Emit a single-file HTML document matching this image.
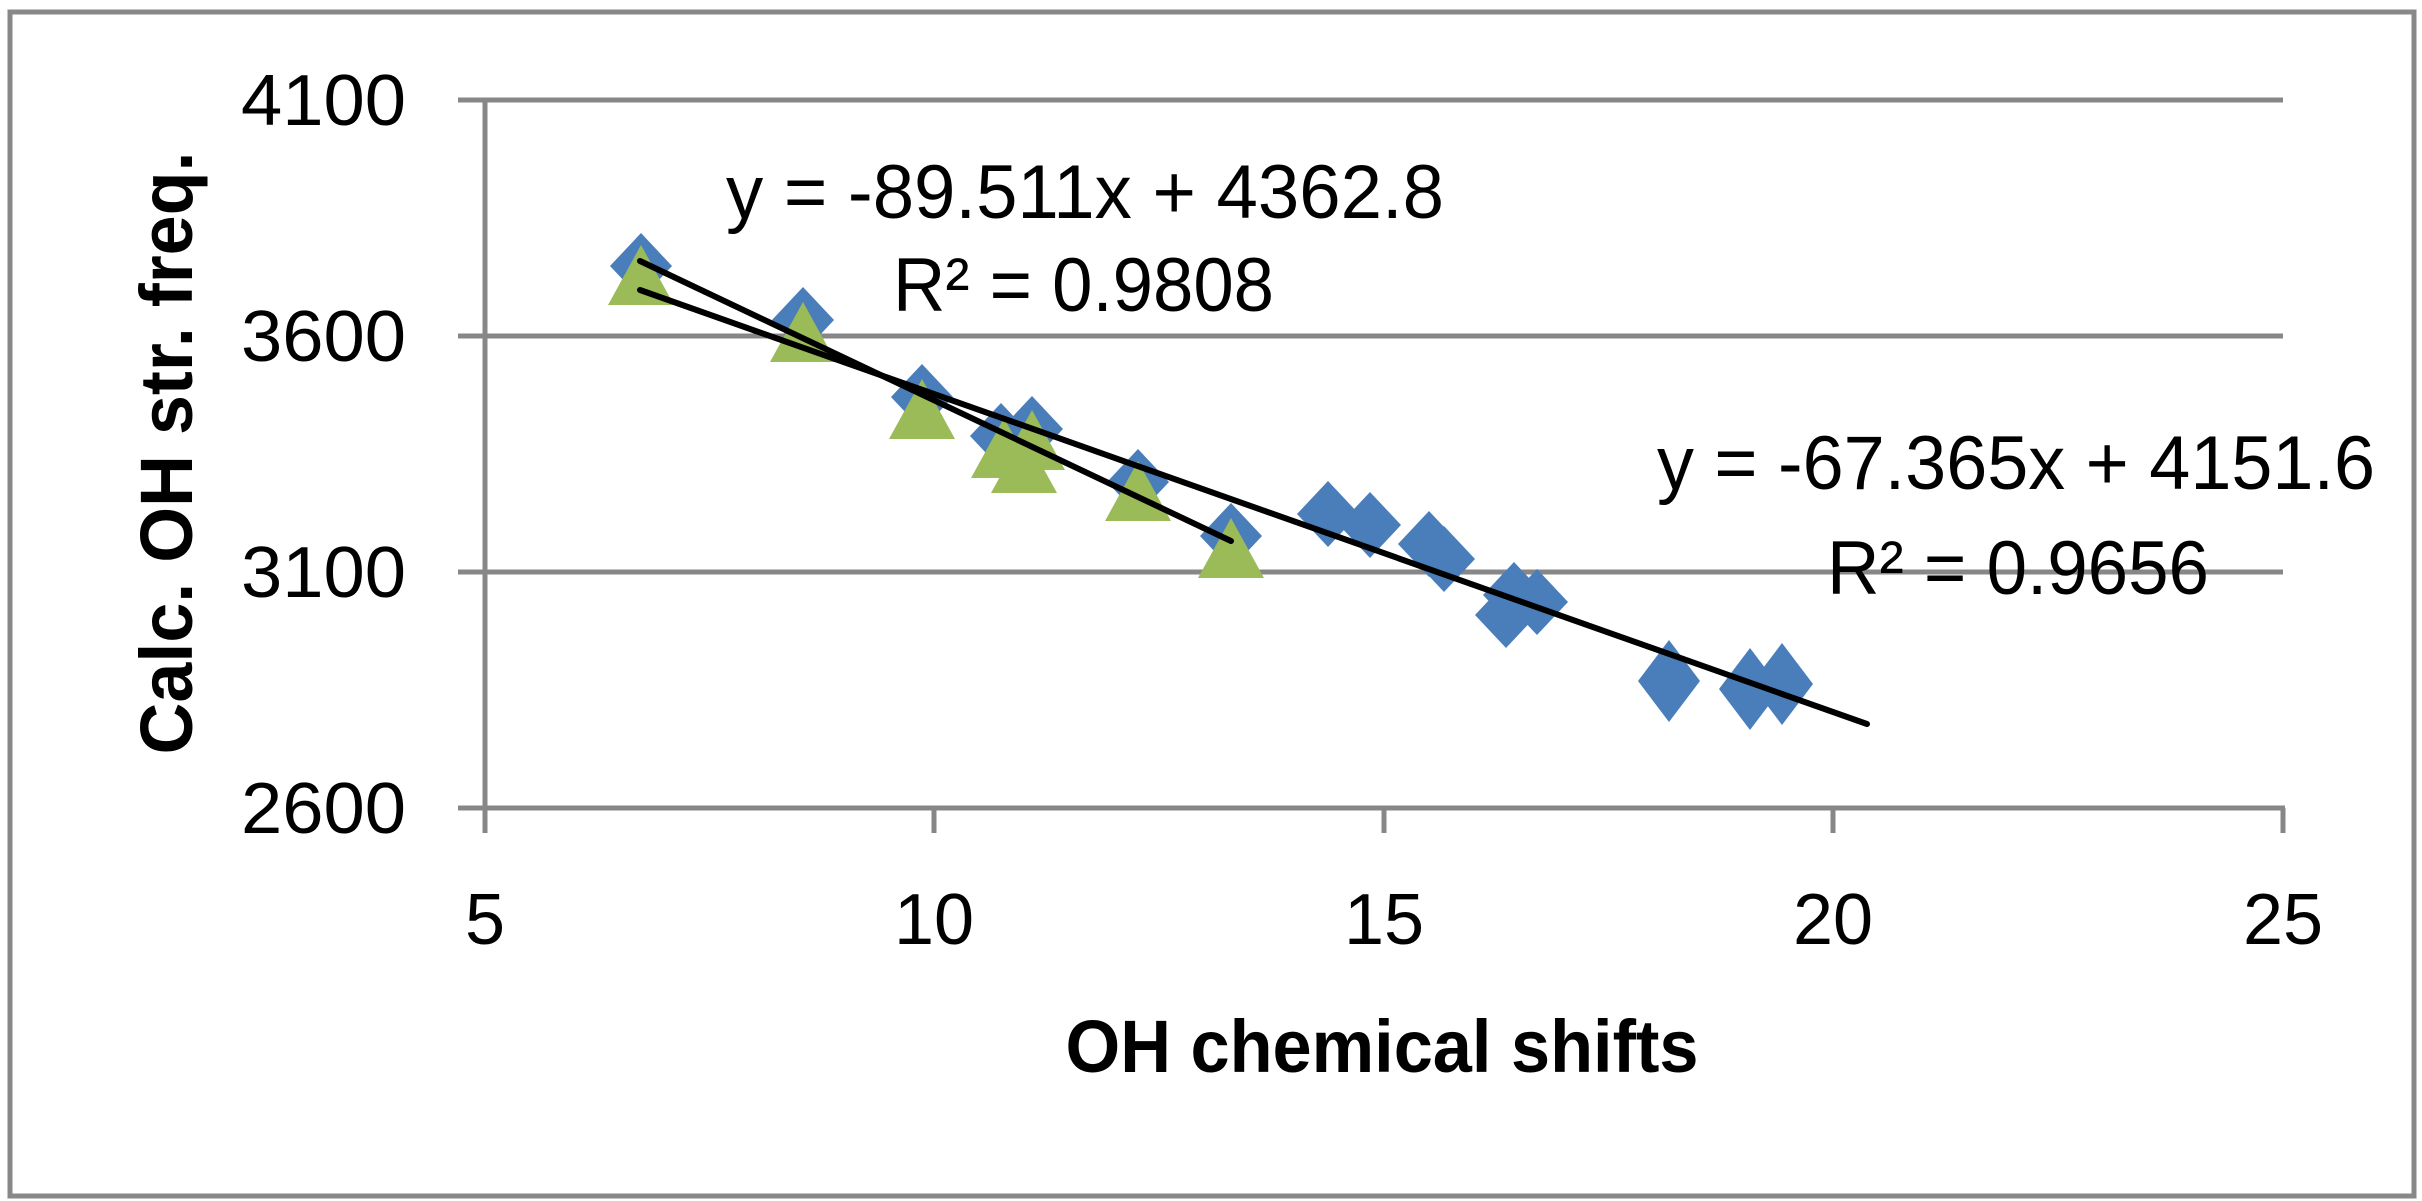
<!DOCTYPE html>
<html><head><meta charset="utf-8"><style>body{margin:0;background:#fff}svg{display:block}</style></head>
<body>
<svg width="2422" height="1201" viewBox="0 0 2422 1201" xmlns="http://www.w3.org/2000/svg" font-family="Liberation Sans, sans-serif">
<rect x="10" y="12" width="2404" height="1184" fill="#fff" stroke="#888" stroke-width="5"/>
<g stroke="#878787" stroke-width="5">
<line x1="458" y1="100" x2="2283" y2="100"/>
<line x1="458" y1="336" x2="2283" y2="336"/>
<line x1="458" y1="572" x2="2283" y2="572"/>
<line x1="458" y1="808" x2="2285" y2="808"/>
<line x1="485" y1="100" x2="485" y2="833"/>
<line x1="934" y1="808" x2="934" y2="833"/>
<line x1="1384" y1="808" x2="1384" y2="833"/>
<line x1="1833" y1="808" x2="1833" y2="833"/>
<line x1="2283" y1="808" x2="2283" y2="833"/>
</g>
<g font-size="72" text-anchor="end" fill="#000">
<text x="406" y="125" textLength="165" lengthAdjust="spacingAndGlyphs">4100</text>
<text x="406" y="361" textLength="165" lengthAdjust="spacingAndGlyphs">3600</text>
<text x="406" y="597" textLength="165" lengthAdjust="spacingAndGlyphs">3100</text>
<text x="406" y="833" textLength="165" lengthAdjust="spacingAndGlyphs">2600</text>
</g>
<g font-size="72" text-anchor="middle" fill="#000">
<text x="485" y="944">5</text>
<text x="934" y="944">10</text>
<text x="1384" y="944">15</text>
<text x="1833" y="944">20</text>
<text x="2283" y="944">25</text>
</g>
<text x="1382" y="1072" font-size="74" font-weight="bold" text-anchor="middle" textLength="633" lengthAdjust="spacingAndGlyphs">OH chemical shifts</text>
<text transform="translate(192,453) rotate(-90)" font-size="74" font-weight="bold" text-anchor="middle" textLength="603" lengthAdjust="spacingAndGlyphs">Calc. OH str. freq.</text>
<g fill="#4A7EBB">
<path d="M0,-33 L31,0 L0,33 L-31,0 Z" transform="translate(641,266)"/>
<path d="M0,-33 L31,0 L0,33 L-31,0 Z" transform="translate(803,320)"/>
<path d="M0,-33 L31,0 L0,33 L-31,0 Z" transform="translate(922,397)"/>
<path d="M0,-33 L31,0 L0,33 L-31,0 Z" transform="translate(1001,436)"/>
<path d="M0,-33 L31,0 L0,33 L-31,0 Z" transform="translate(1032,429)"/>
<path d="M0,-33 L31,0 L0,33 L-31,0 Z" transform="translate(1138,482)"/>
<path d="M0,-33 L31,0 L0,33 L-31,0 Z" transform="translate(1231,536)"/>
<path d="M0,-33 L31,0 L0,33 L-31,0 Z" transform="translate(1328,514)"/>
<path d="M0,-33 L31,0 L0,33 L-31,0 Z" transform="translate(1370,525)"/>
<path d="M0,-33 L31,0 L0,33 L-31,0 Z" transform="translate(1429,544)"/>
<path d="M0,-33 L31,0 L0,33 L-31,0 Z" transform="translate(1444,559)"/>
<path d="M0,-33 L31,0 L0,33 L-31,0 Z" transform="translate(1514,595)"/>
<path d="M0,-33 L31,0 L0,33 L-31,0 Z" transform="translate(1537,602)"/>
<path d="M0,-33 L31,0 L0,33 L-31,0 Z" transform="translate(1506,615)"/>
<path d="M0,-41 L31,0 L0,41 L-31,0 Z" transform="translate(1669,681)"/>
<path d="M0,-41 L31,0 L0,41 L-31,0 Z" transform="translate(1750,689)"/>
<path d="M0,-41 L31,0 L0,41 L-31,0 Z" transform="translate(1782,684)"/>
</g>
<g fill="#9BBB59">
<path d="M0,-30 L33,30 L-33,30 Z" transform="translate(641,275)"/>
<path d="M0,-30 L33,30 L-33,30 Z" transform="translate(803,332)"/>
<path d="M0,-30 L33,30 L-33,30 Z" transform="translate(922,409)"/>
<path d="M0,-30 L33,30 L-33,30 Z" transform="translate(1004,448)"/>
<path d="M0,-30 L33,30 L-33,30 Z" transform="translate(1032,440)"/>
<path d="M0,-30 L33,30 L-33,30 Z" transform="translate(1024,463)"/>
<path d="M0,-30 L33,30 L-33,30 Z" transform="translate(1138,491)"/>
<path d="M0,-30 L33,30 L-33,30 Z" transform="translate(1231,548)"/>
</g>
<g stroke="#000" stroke-width="6" stroke-linecap="round">
<line x1="640" y1="290" x2="1867" y2="724"/>
<line x1="640" y1="261" x2="1231" y2="541"/>
</g>
<g font-size="76" fill="#000">
<text x="726" y="218" textLength="718" lengthAdjust="spacingAndGlyphs">y = -89.511x + 4362.8</text>
<text x="893" y="311" textLength="381" lengthAdjust="spacingAndGlyphs">R² = 0.9808</text>
<text x="1657" y="489" textLength="718" lengthAdjust="spacingAndGlyphs">y = -67.365x + 4151.6</text>
<text x="1827" y="594" textLength="382" lengthAdjust="spacingAndGlyphs">R² = 0.9656</text>
</g>
</svg>
</body></html>
